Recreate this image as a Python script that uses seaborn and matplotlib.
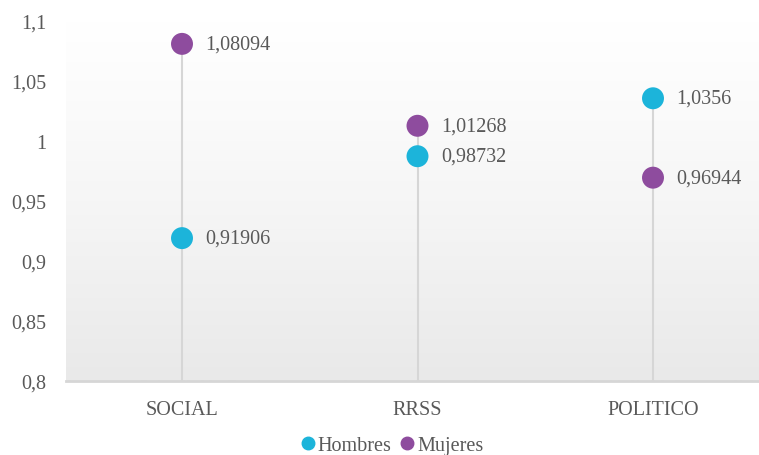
import numpy as np
import pandas as pd
import matplotlib
matplotlib.use("Agg")
import matplotlib.pyplot as plt
from matplotlib.colors import LinearSegmentedColormap
from matplotlib.lines import Line2D
import seaborn as sns

# data
categorias = ["SOCIAL", "RRSS", "POLITICO"]
hombres = [0.91906, 0.98732, 1.0356]
mujeres = [1.08094, 1.01268, 0.96944]
etiquetas_h = ["0,91906", "0,98732", "1,0356"]
etiquetas_m = ["1,08094", "1,01268", "0,96944"]
y_ticks = [0.8, 0.85, 0.9, 0.95, 1.0, 1.05, 1.1]
y_ticklabels = ["0,8", "0,85", "0,9", "0,95", "1", "1,05", "1,1"]

COL_H = "#1cb4da"
COL_M = "#8e4c9e"
TXT = "#595959"

sns.set_theme(style="white")
plt.rcParams["font.family"] = ["Liberation Serif", "DejaVu Serif"]

df = pd.DataFrame({
    "cat": categorias * 2,
    "x": list(range(len(categorias))) * 2,
    "valor": hombres + mujeres,
    "sexo": ["Hombres"] * 3 + ["Mujeres"] * 3,
})

fig = plt.figure(figsize=(7.59, 4.56), dpi=100)
ax = fig.add_axes([66 / 759, 1 - 382 / 456, 1 - 66 / 759, (382 - 22) / 456])

x_left = (66 - 182) / 235.5
x_right = (759 - 182) / 235.5
ax.set_xlim(x_left, x_right)
ax.set_ylim(0.8, 1.1)

# soft background gradient, grey at the bottom fading to white
grad = np.linspace(0, 1, 256).reshape(-1, 1)
cmap = LinearSegmentedColormap.from_list("g", ["#e9e9e9", "#f6f6f6", "#ffffff"])
ax.imshow(grad, extent=[x_left, x_right, 0.8, 1.1], aspect="auto", cmap=cmap,
          origin="lower", zorder=0)

# drop lines
tops = np.maximum(hombres, mujeres)
ax.vlines(range(len(categorias)), 0.8, tops, color="#d6d6d6", lw=1.5, zorder=1)

sns.scatterplot(data=df, x="x", y="valor", hue="sexo",
                palette={"Hombres": COL_H, "Mujeres": COL_M},
                s=250, edgecolor="none", ax=ax, zorder=3, legend=False)

for i in range(len(categorias)):
    ax.annotate(etiquetas_h[i], (i, hombres[i]), xytext=(17, 0),
                textcoords="offset points", va="center", ha="left",
                fontsize=14.5, color=TXT)
    ax.annotate(etiquetas_m[i], (i, mujeres[i]), xytext=(17, 0),
                textcoords="offset points", va="center", ha="left",
                fontsize=14.5, color=TXT)

ax.set_xticks(range(len(categorias)))
ax.set_xticklabels(categorias, fontsize=14.5, color=TXT)
ax.set_yticks(y_ticks)
ax.set_yticklabels(y_ticklabels, fontsize=14.5, color=TXT)
ax.tick_params(axis="x", length=0, pad=14)
ax.tick_params(axis="y", length=0, pad=14)
ax.set_xlabel("")
ax.set_ylabel("")

for s in ["top", "right", "left"]:
    ax.spines[s].set_visible(False)
ax.spines["bottom"].set_color("#d6d6d6")
ax.spines["bottom"].set_linewidth(2)
ax.spines["bottom"].set_zorder(2)

handles = [Line2D([], [], marker="o", ls="none", color=COL_H, markersize=9),
           Line2D([], [], marker="o", ls="none", color=COL_M, markersize=9)]
fig.legend(handles, ["Hombres", "Mujeres"], loc="center",
           bbox_to_anchor=(392 / 759, 1 - 446 / 456), ncol=2, frameon=False,
           fontsize=14.5, labelcolor=TXT, handlelength=0.7, handletextpad=0.15,
           columnspacing=0.4, borderaxespad=0, borderpad=0)

fig.savefig("out.png", dpi=100)
